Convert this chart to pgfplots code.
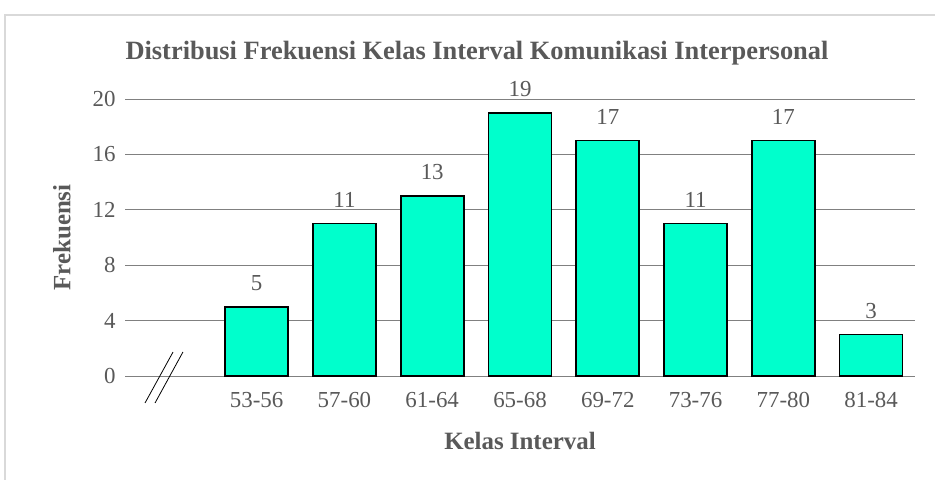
\documentclass[border=0pt]{standalone}
\usepackage{fontspec}
\setmainfont{Liberation Serif}
\usepackage{pgfplots}
\pgfplotsset{compat=1.18}
\definecolor{barfill}{RGB}{0,255,204}
\definecolor{txt}{RGB}{89,89,89}
\definecolor{gridc}{RGB}{128,128,128}
\definecolor{frame}{RGB}{217,217,217}
\begin{document}
\begin{tikzpicture}[x=1bp,y=1bp]
\useasboundingbox (0,0) rectangle (935,480);
\fill[white] (0,0) rectangle (935,480);
\draw[frame, line width=1.2bp] (5,-5) rectangle (940,465);
\node[font=\fontsize{26.5}{30}\selectfont\bfseries, text=txt] at (477,427) {Distribusi Frekuensi Kelas Interval Komunikasi Interpersonal};
\begin{axis}[
    at={(125bp,104bp)}, anchor=south west,
    scale only axis, width=790bp, height=277bp,
    xmin=-0.5, xmax=8.5, ymin=0, ymax=20,
    axis line style={draw=none},
    ytick={0,4,...,20}, xtick={1,...,8},
    xticklabels={53-56,57-60,61-64,65-68,69-72,73-76,77-80,81-84},
    ymajorgrids, grid style={gridc, line width=0.8bp},
    major tick length=0pt,
    tick label style={font=\fontsize{23}{26}\selectfont, text=txt},
    /pgf/number format/assume math mode=true,
    yticklabel style={xshift=-6bp},
    xticklabel style={yshift=-13bp},
    ylabel={Frekuensi}, ylabel style={font=\fontsize{25}{28}\selectfont\bfseries, text=txt, at={(axis description cs:-0.08,0.5)}, anchor=center},
    xlabel={Kelas Interval}, xlabel style={font=\fontsize{25}{28}\selectfont\bfseries, text=txt, at={(axis description cs:0.5,0)}, anchor=center, yshift=-65bp},
    clip=false,
    nodes near coords,
    every node near coord/.append style={font=\fontsize{23}{26}\selectfont, text=txt, yshift=12bp},
]
\addplot[ybar, bar width=63bp, fill=barfill, draw=black, line width=1.6bp]
  coordinates {(1,5) (2,11) (3,13) (4,19) (5,17) (6,11) (7,17) (8,3)};
\draw[black, line width=0.8bp] (axis cs:-0.272,-1.95) -- (axis cs:0.047,1.73);
\draw[black, line width=0.8bp] (axis cs:-0.158,-1.95) -- (axis cs:0.160,1.73);
\end{axis}
\end{tikzpicture}
\end{document}
